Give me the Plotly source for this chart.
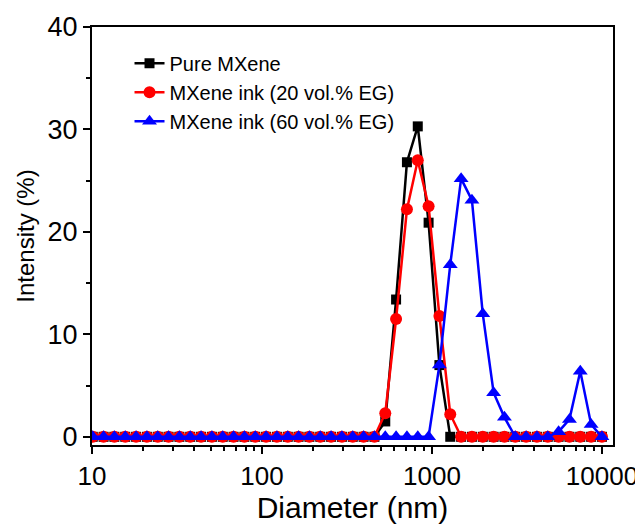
import plotly.graph_objects as go

diameter_nm = [10.10, 11.70, 13.54, 15.69, 18.17, 21.04, 24.36, 28.21, 32.67, 37.84,
               43.82, 50.75, 58.77, 68.06, 78.82, 91.28, 105.7, 122.4, 141.8, 164.2,
               190.1, 220.2, 255.0, 295.3, 342.0, 396.1, 458.7, 531.2, 615.1, 712.4,
               825.0, 955.4, 1106, 1281, 1484, 1718, 1990, 2305, 2669, 3091,
               3580, 4145, 4801, 5560, 6439, 7456, 8635, 10000]

pure_mxene = [0] * 27 + [1.5, 13.4, 26.8, 30.3, 20.9, 7.0] + [0] * 15
ink_20 = [0] * 27 + [2.3, 11.5, 22.2, 27.0, 22.5, 11.8, 2.2] + [0] * 14
ink_60 = [0] * 32 + [7.0, 16.8, 25.2, 23.1, 12.0, 4.3, 1.9, 0, 0, 0, 0, 0.5, 1.7, 6.4, 1.2, 0]

names = ["Pure MXene", "MXene ink (20 vol.% EG)", "MXene ink (60 vol.% EG)"]
series = [pure_mxene, ink_20, ink_60]
colors = ["#000000", "#ff0000", "#0000ff"]
symbols = ["square", "circle", "triangle-up"]
sizes = [10, 12, 13]

fig = go.Figure()
for n, s, c, sym, sz in zip(names, series, colors, symbols, sizes):
    fig.add_trace(go.Scatter(
        x=diameter_nm, y=s, name=n, mode="lines+markers",
        line=dict(color=c, width=2.5),
        marker=dict(symbol=sym, size=sz, color=c),
    ))

font_family = "Liberation Sans, Arial, sans-serif"
fig.update_layout(
    width=635, height=517,
    margin=dict(l=84, r=30, t=19, b=80, autoexpand=False),
    paper_bgcolor="white", plot_bgcolor="white",
    font=dict(family=font_family, color="black"),
    showlegend=True,
    legend=dict(x=0.072, y=0.96, xanchor="left", yanchor="top",
                font=dict(size=20, family=font_family), bgcolor="rgba(0,0,0,0)",
                tracegroupgap=0),
)
fig.update_xaxes(
    type="log", range=[1, 4.065], automargin=False,
    tickvals=[10, 100, 1000, 10000], ticktext=["10", "100", "1000", "10000"],
    ticks="outside", ticklen=7, tickwidth=2, tickcolor="black",
    minor=dict(ticks="outside", ticklen=4, tickwidth=2, tickcolor="black", dtick="D1", showgrid=False),
    showline=True, linewidth=2, linecolor="black", mirror=True,
    showgrid=False, zeroline=False,
    tickfont=dict(size=26),
    title=dict(text="Diameter (nm)", font=dict(size=30), standoff=4),
)
fig.update_yaxes(
    range=[-0.8, 40], tickvals=[0, 10, 20, 30, 40], automargin=False,
    ticks="outside", ticklen=7, tickwidth=2, tickcolor="black",
    minor=dict(ticks="outside", ticklen=4, tickwidth=2, tickcolor="black", dtick=5, showgrid=False),
    showline=True, linewidth=2, linecolor="black", mirror=True,
    showgrid=False, zeroline=False,
    tickfont=dict(size=27),
    title=dict(text="Intensity (%)", font=dict(size=24), standoff=6),
)
fig.write_html("out.html")
